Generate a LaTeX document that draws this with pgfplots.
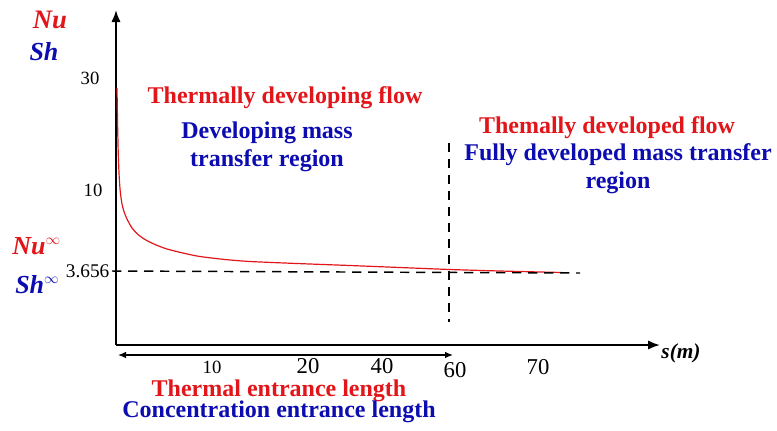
\documentclass[border=0pt]{standalone}
\usepackage{pgfplots}
\pgfplotsset{compat=1.18}
\usepackage{fontspec}
\setmainfont{Liberation Serif}
\usetikzlibrary{arrows.meta}
\definecolor{nured}{RGB}{226,22,26}
\definecolor{shblue}{RGB}{12,12,176}
\newcommand{\infsup}{\textsuperscript{\normalfont\fontsize{11}{11}\selectfont$\infty$}}
\begin{document}
\begin{tikzpicture}
% schematic: axis units are pixels of the 777x430 frame, y measured downwards
\begin{axis}[
  name=ax,
  scale only axis, width=582.75pt, height=322.5pt,
  xmin=0, xmax=777, ymin=0, ymax=430, y dir=reverse,
  hide axis, clip=false]

% main axes
\addplot[black, line width=1.5pt, -{Latex[length=9pt,width=7pt]}] coordinates {(116,345)(116,10)};
\addplot[black, line width=1.5pt, -{Latex[length=9pt,width=7pt]}] coordinates {(116,345)(660,345)};

% Nu / Sh curve
\addplot[nured, line width=0.9pt, smooth, tension=0.4] coordinates {
  (117,88)(117.6,125)(118.3,155)(119.2,177)(120.3,192)(122,204)(124.5,213)
  (127.5,220)(132,228)(138,234.5)(145,239.5)(155,244.5)(167,249)(185,253.5)
  (200,256.5)(225,259.5)(250,261.5)(297,263.5)(350,265.5)(400,267.5)
  (450,269.5)(500,271)(562,272.5)};

% asymptote and boundary between regions
\addplot[black, line width=1.1pt, dash pattern=on 7pt off 5pt] coordinates {(112,271)(580,273)};
\addplot[black, line width=1.1pt, dash pattern=on 7pt off 5pt] coordinates {(449,143)(449,322)};

% entrance length arrow
\addplot[black, line width=1pt, {Latex[length=6pt,width=5pt]}-{Latex[length=6pt,width=5pt]}] coordinates {(118,355)(453,355)};

% axis labels
\node[nured, font=\fontsize{20}{20}\selectfont\bfseries\itshape] at (axis cs:50,20) {Nu};
\node[shblue, font=\fontsize{19.5}{19.5}\selectfont\bfseries\itshape] at (axis cs:44,52) {Sh};
\node[nured, font=\fontsize{19.5}{19.5}\selectfont\bfseries\itshape, anchor=west, inner sep=0pt] at (axis cs:12,246) {Nu\infsup};
\node[shblue, font=\fontsize{19.5}{19.5}\selectfont\bfseries\itshape, anchor=west, inner sep=0pt] at (axis cs:15,285) {Sh\infsup};
\node[black, font=\fontsize{16}{16}\selectfont\bfseries\itshape] at (axis cs:681,353) {s(m)};

% y labels
\node[font=\fontsize{14}{14}\selectfont] at (axis cs:90,78) {30};
\node[font=\fontsize{14}{14}\selectfont] at (axis cs:93,190) {10};
\node[font=\fontsize{14.5}{14.5}\selectfont, anchor=east, inner sep=1pt] at (axis cs:111,271) {3.656};

% x labels
\node[font=\fontsize{14}{14}\selectfont, inner sep=0pt] at (axis cs:212,367) {10};
\node[font=\fontsize{17}{17}\selectfont, inner sep=0pt] at (axis cs:308,366) {20};
\node[font=\fontsize{17}{17}\selectfont, inner sep=0pt] at (axis cs:382,366) {40};
\node[font=\fontsize{17}{17}\selectfont, inner sep=0pt] at (axis cs:455,370) {60};
\node[font=\fontsize{17}{17}\selectfont, inner sep=0pt] at (axis cs:538,367) {70};

% region texts
\node[nured, font=\fontsize{18}{18}\selectfont\bfseries] at (axis cs:285,98) {Thermally developing flow};
\node[shblue, font=\fontsize{18}{18}\selectfont\bfseries, align=center] at (axis cs:267,147) {Developing mass\\[3pt]transfer region};
\node[nured, font=\fontsize{18}{18}\selectfont\bfseries] at (axis cs:607,128) {Themally developed flow};
\node[shblue, font=\fontsize{18}{18}\selectfont\bfseries, align=center] at (axis cs:618,169) {Fully developed mass transfer\\[3pt]region};
\node[font=\fontsize{18}{15}\selectfont\bfseries, align=center, inner sep=0pt] at (axis cs:279,401)
  {\textcolor{nured}{Thermal entrance length}\\[-1.5pt]\textcolor{shblue}{Concentration entrance length}};

\end{axis}
\pgfresetboundingbox
\path (ax.south west) rectangle (ax.north east);
\end{tikzpicture}
\end{document}
